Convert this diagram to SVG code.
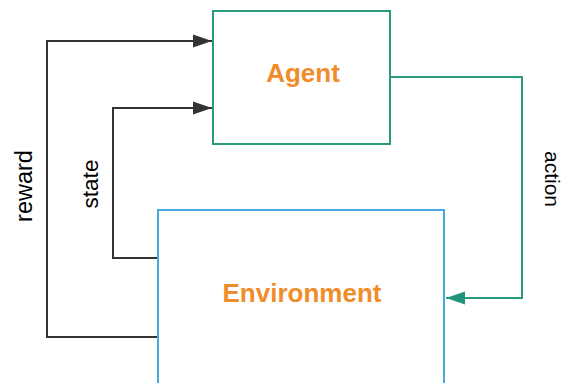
<svg xmlns="http://www.w3.org/2000/svg" width="564" height="383" viewBox="0 0 564 383">
  <style>
    .node-title { font-family: "Liberation Sans", Arial, sans-serif; font-weight: bold; font-size: 26px; fill: #f08c2a; text-anchor: middle; }
    .edge-label { font-family: "Liberation Sans", Arial, sans-serif; font-size: 22.5px; fill: #000000; text-anchor: middle; }
    .link-dark { fill: none; stroke: #333333; stroke-width: 2; }
    .link-teal { fill: none; stroke: #2a9a7f; stroke-width: 2; }
  </style>
  <defs>
    <marker id="arrow-dark" markerUnits="userSpaceOnUse" markerWidth="20" markerHeight="14" refX="19" refY="7" orient="auto">
      <path d="M0,0.5 L19,7 L0,13.5 Z" fill="#333333"/>
    </marker>
    <marker id="arrow-teal" markerUnits="userSpaceOnUse" markerWidth="20" markerHeight="14" refX="19" refY="7" orient="auto">
      <path d="M0,0.5 L19,7 L0,13.5 Z" fill="#1f9479"/>
    </marker>
  </defs>

  <rect width="564" height="383" fill="#ffffff"/>

  <g id="agent">
    <rect x="213" y="11" width="177" height="133" fill="#ffffff" stroke="#2a9a7f" stroke-width="2"/>
    <text class="node-title" x="303" y="82">Agent</text>
  </g>

  <g id="environment">
    <rect x="158" y="210" width="286" height="190" fill="#ffffff" stroke="#4aa8e0" stroke-width="2"/>
    <text class="node-title" x="302" y="302">Environment</text>
  </g>

  <g id="connectors">
    <polyline class="link-dark" points="157,337 47,337 47,41 212,41" marker-end="url(#arrow-dark)"/>
    <polyline class="link-dark" points="157,258 113,258 113,108 212,108" marker-end="url(#arrow-dark)"/>
    <polyline class="link-teal" points="391,77 522,77 522,298 446,298" marker-end="url(#arrow-teal)"/>
  </g>

  <g id="labels">
    <text class="edge-label" style="font-size:23.5px" transform="translate(32,186) rotate(-90)">reward</text>
    <text class="edge-label" transform="translate(98,184) rotate(-90)">state</text>
    <text class="edge-label" style="font-size:21px" transform="translate(545,179) rotate(90)">action</text>
  </g>
</svg>
